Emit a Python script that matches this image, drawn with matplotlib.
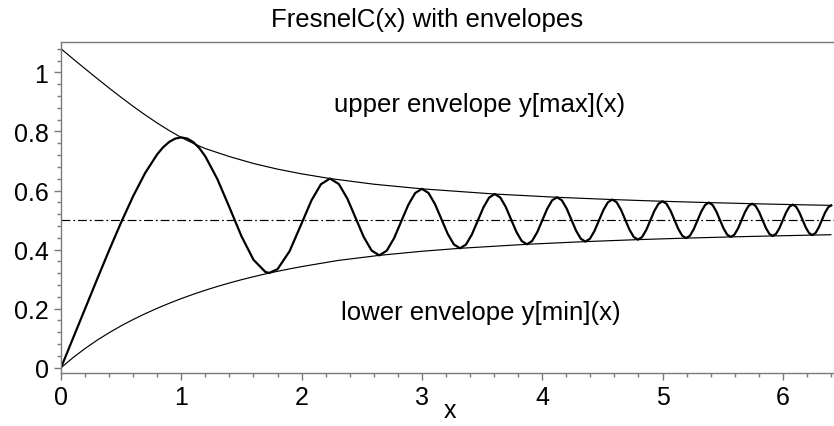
import matplotlib
matplotlib.use('Agg')
import matplotlib.pyplot as plt
from matplotlib.ticker import MultipleLocator

# FresnelC(x), values
x_fc = [0.0, 0.1, 0.2, 0.3, 0.4, 0.5, 0.6, 0.7, 0.8, 0.85, 0.9, 0.95, 1.0, 1.05, 1.1, 1.15, 1.2, 1.3,
        1.4, 1.5, 1.6, 1.7, 1.732, 1.8, 1.9,
        2.0, 2.0817, 2.1602, 2.2361, 2.3094, 2.3805, 2.4495, 2.5166, 2.5820, 2.6458, 2.7080, 2.7689,
        2.8284, 2.8868, 2.9439, 3.0, 3.0551, 3.1091, 3.1623, 3.2146, 3.2660, 3.3166, 3.3665, 3.4157,
        3.4641, 3.5119, 3.5590, 3.6056, 3.6515, 3.6968, 3.7417, 3.7859, 3.8297, 3.8730, 3.9158, 3.9581,
        4.0, 4.0415, 4.0825, 4.1231, 4.1633, 4.2032, 4.2426, 4.2817, 4.3205, 4.3589, 4.3970, 4.4347,
        4.4721, 4.5092, 4.5461, 4.5826, 4.6188, 4.6547, 4.6904, 4.7258, 4.7610, 4.7958, 4.8305, 4.8648,
        4.8990, 4.9329, 4.9666, 5.0, 5.0332, 5.0662, 5.0990, 5.1316, 5.1640, 5.1962, 5.2281, 5.2599,
        5.2915, 5.3229, 5.3541, 5.3852, 5.4160, 5.4467, 5.4772, 5.5076, 5.5377, 5.5678, 5.5976, 5.6273,
        5.6569, 5.6862, 5.7155, 5.7446, 5.7735, 5.8023, 5.8310, 5.8595, 5.8878, 5.9161, 5.9442, 5.9722,
        6.0, 6.0277, 6.0553, 6.0828, 6.1101, 6.1373, 6.1644, 6.1914, 6.2183, 6.2450, 6.2716, 6.2981,
        6.3246, 6.3509, 6.3770, 6.4031]
y_fc = [0.0, 0.1000, 0.1999, 0.2994, 0.3975, 0.4923, 0.5811, 0.6597, 0.7228, 0.7469, 0.7648, 0.7760,
        0.7799, 0.7759, 0.7638, 0.7435, 0.7154, 0.6386,
        0.5431, 0.4453, 0.3655, 0.3238, 0.3212, 0.3336, 0.3945,
        0.4885, 0.5663, 0.6211, 0.6406, 0.6220, 0.5724, 0.5066, 0.4425, 0.3968, 0.3804, 0.3963, 0.4388,
        0.4956, 0.5513, 0.5913, 0.6057, 0.5917, 0.5539, 0.5032, 0.4532, 0.4173, 0.4043, 0.4170, 0.4513,
        0.4976, 0.5432, 0.5762, 0.5881, 0.5764, 0.5447, 0.5019, 0.4596, 0.4290, 0.4179, 0.4289, 0.4584,
        0.4984, 0.5380, 0.5667, 0.5771, 0.5669, 0.5390, 0.5013, 0.4640, 0.4369, 0.4270, 0.4368, 0.4631,
        0.4989, 0.5343, 0.5601, 0.5694, 0.5602, 0.5350, 0.5010, 0.4672, 0.4426, 0.4337, 0.4425, 0.4665,
        0.4991, 0.5315, 0.5551, 0.5636, 0.5551, 0.5321, 0.5008, 0.4697, 0.4470, 0.4388, 0.4469, 0.4692,
        0.4993, 0.5293, 0.5511, 0.5591, 0.5512, 0.5298, 0.5006, 0.4716, 0.4505, 0.4429, 0.4505, 0.4712,
        0.4994, 0.5275, 0.5480, 0.5554, 0.5480, 0.5279, 0.5005, 0.4733, 0.4534, 0.4462, 0.4534, 0.4729,
        0.4995, 0.5260, 0.5453, 0.5523, 0.5453, 0.5263, 0.5004, 0.4747, 0.4559, 0.4490, 0.4559, 0.4744,
        0.4996, 0.5247, 0.5430, 0.5497]

# upper envelope y[max](x)
x_upper = [0.0, 0.1, 0.2, 0.3, 0.4, 0.5, 0.6, 0.7, 0.8, 0.9, 1.0, 1.1, 1.2, 1.4, 1.6, 1.8, 2.0,
           2.236, 2.6, 3.0, 3.606, 4.123, 4.583, 5.0, 5.385, 5.745, 6.083, 6.403]
y_upper = [1.080, 1.046, 1.0125, 0.9795, 0.947, 0.9155, 0.885, 0.856, 0.8285, 0.803, 0.7795, 0.7595,
           0.742, 0.715, 0.6916, 0.6724, 0.6565, 0.6406, 0.6214, 0.6057, 0.5881, 0.5771, 0.5694,
           0.5636, 0.5591, 0.5554, 0.5523, 0.5497]

# lower envelope y[min](x)
x_lower = [0.0, 0.1, 0.2, 0.3, 0.4, 0.5, 0.6, 0.7, 0.8, 0.9, 1.0, 1.1, 1.2, 1.3, 1.4, 1.5, 1.6, 1.7,
           1.8, 1.9, 2.0, 2.3, 2.646, 3.0, 3.317, 3.873, 4.359, 4.796, 5.196, 5.568, 5.916, 6.245, 6.4]
y_lower = [0.0, 0.0340, 0.0650, 0.0930, 0.1185, 0.1418, 0.1632, 0.1829, 0.2012, 0.2182, 0.2340,
           0.2487, 0.2624, 0.2751, 0.2869, 0.2979, 0.3081, 0.3176, 0.3264, 0.3346, 0.3423, 0.3630,
           0.3804, 0.3943, 0.4043, 0.4179, 0.4270, 0.4337, 0.4388, 0.4429, 0.4462, 0.4490, 0.4503]

mid_y = 0.5

plt.rcParams['font.family'] = ['Liberation Sans', 'DejaVu Sans']
plt.rcParams['font.size'] = 18

fig = plt.figure(figsize=(8.34, 4.27), dpi=100)
ax = fig.add_axes([61 / 834, 53 / 427, 773 / 834, 331 / 427])

ax.plot(x_upper, y_upper, color='black', lw=0.85)
ax.plot(x_lower, y_lower, color='black', lw=0.85)
ax.plot(x_fc, y_fc, color='black', lw=1.6)
ax.axhline(mid_y, color='black', lw=0.85, dashes=(7.5, 2.5, 1.5, 2.5))

ax.set_xlim(0, 773 / 120.3)
ax.set_ylim(-0.018, 1.103)

ax.xaxis.set_major_locator(MultipleLocator(1))
ax.xaxis.set_minor_locator(MultipleLocator(0.2))
ax.yaxis.set_minor_locator(MultipleLocator(0.04))
ax.set_yticks([0, 0.2, 0.4, 0.6, 0.8, 1.0])
ax.set_yticklabels(['0', '0.2', '0.4', '0.6', '0.8', '1'])

for s in ['left', 'bottom', 'top']:
    ax.spines[s].set_color('#7a7a7a')
    ax.spines[s].set_linewidth(1)
ax.spines['right'].set_visible(False)

ax.tick_params(which='major', direction='out', length=5, width=1, color='#7a7a7a', pad=4)
ax.tick_params(which='minor', direction='out', length=3, width=1, color='#7a7a7a')
ax.tick_params(axis='x', which='both', top=False)

ax.text(2.27, 0.869, 'upper envelope y[max](x)', va='baseline', fontsize=18.5)
ax.text(2.325, 0.164, 'lower envelope y[min](x)', va='baseline', fontsize=18.5)

ax.set_title('FresnelC(x) with envelopes', x=(427 - 61) / 773, y=1 + 16 / 331,
             va='baseline', fontsize=18.5, pad=0)
ax.set_xlabel('x')
ax.xaxis.set_label_coords((450 - 61) / 773, -44 / 331)
ax.xaxis.label.set_va('baseline')

fig.savefig('out.png', dpi=100)
